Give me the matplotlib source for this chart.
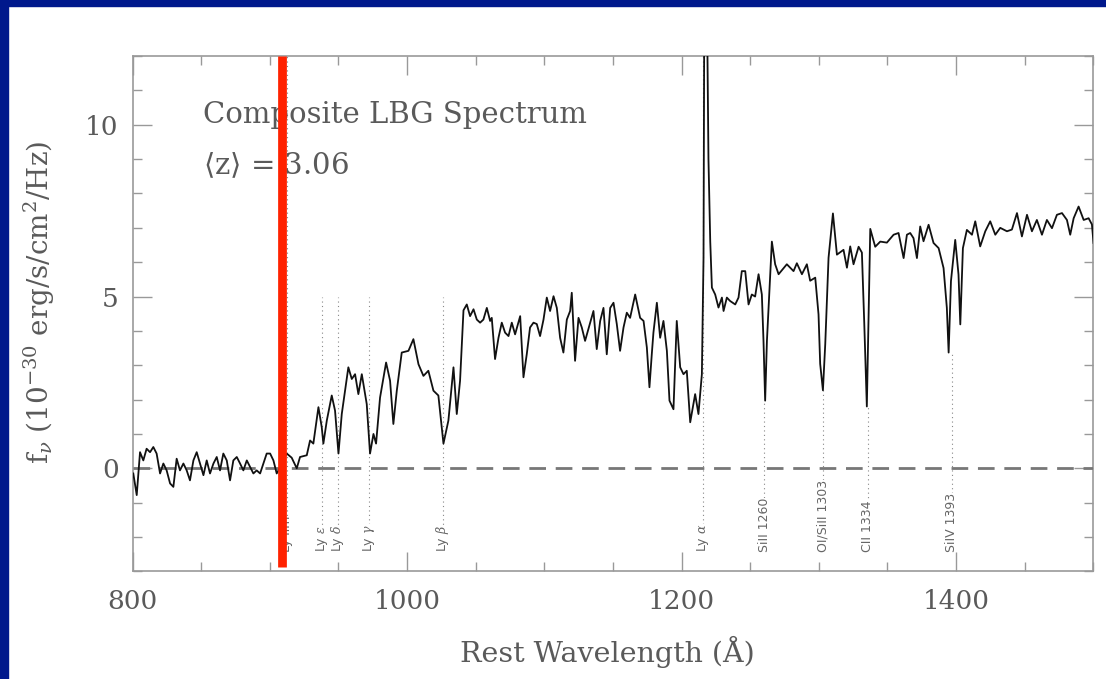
import matplotlib
matplotlib.use('Agg')
import matplotlib.pyplot as plt
from matplotlib.patches import Rectangle
from matplotlib.ticker import MultipleLocator

# composite spectrum, rest wavelength (A) and f_nu (1e-30 erg/s/cm^2/Hz)
wave = [800.5, 803.0, 805.4, 807.8, 810.2, 812.7, 815.1, 817.5, 820.0, 822.4,
        824.8, 827.3, 829.7, 832.1, 834.5, 837.0, 839.4, 841.8, 844.3, 846.7,
        849.1, 851.6, 854.0, 856.4, 858.9, 861.3, 863.7, 866.1, 868.6, 871.0,
        873.4, 875.9, 878.3, 880.7, 883.2, 885.6, 888.0, 890.4, 892.9, 895.3,
        897.7, 900.2, 902.6, 905.0, 908.5, 910.5,
        912.3, 915.9, 919.6, 922.0, 926.9, 929.3, 931.7, 935.4, 937.8, 939.0,
        941.5, 945.1, 947.5, 950.0, 952.4, 957.2, 959.7, 962.1, 964.5, 967.0,
        970.6, 973.0, 975.5, 977.4, 980.3, 984.7, 987.6, 990.0, 992.5, 996.1,
        1001.0, 1004.6, 1008.3, 1011.9, 1015.5, 1019.2, 1022.8, 1026.5, 1030.1, 1033.8,
        1036.2, 1038.6, 1041.1, 1043.5, 1045.9, 1048.4, 1050.8, 1053.2, 1055.6, 1058.1,
        1060.5, 1061.7, 1064.1, 1066.6, 1069.0, 1071.4, 1073.9, 1076.3, 1078.7, 1082.4,
        1084.8, 1087.2, 1089.6, 1092.1, 1094.5, 1096.9, 1099.4, 1101.8, 1104.2, 1106.7,
        1109.1, 1111.5, 1113.9, 1116.4, 1118.8, 1120.0, 1122.4, 1124.9, 1127.3, 1129.7,
        1133.4, 1135.8, 1138.2, 1140.7, 1143.1, 1145.5, 1148.0, 1150.4, 1152.8, 1155.2,
        1157.7, 1160.1, 1162.5, 1166.2, 1169.8, 1172.3, 1174.7, 1176.6, 1178.3, 1179.5,
        1182.0, 1184.4, 1186.8, 1189.3, 1191.2, 1194.1, 1196.5, 1199.0, 1201.4, 1203.8,
        1206.3, 1209.9, 1212.3, 1214.8, 1216.0, 1216.6, 1218.4, 1219.6, 1220.9, 1222.1,
        1224.5, 1226.9, 1229.4, 1230.6, 1233.0, 1235.4, 1239.1, 1241.5, 1243.9, 1246.4,
        1248.8, 1251.2, 1253.6, 1256.1, 1258.5, 1259.7, 1260.9, 1262.2, 1264.6, 1265.8,
        1268.2, 1270.7, 1276.7, 1281.6, 1284.0, 1287.7, 1291.3, 1293.7, 1297.4, 1299.8,
        1301.0, 1303.0, 1304.7, 1307.1, 1310.3, 1313.2, 1318.0, 1320.5, 1322.9, 1325.3,
        1329.0, 1331.4, 1333.1, 1335.0, 1337.5, 1341.1, 1344.8, 1349.6, 1354.5, 1358.1,
        1361.8, 1364.2, 1366.6, 1369.0, 1371.5, 1373.9, 1376.3, 1380.0, 1383.6, 1387.3,
        1390.9, 1393.3, 1394.6, 1396.3, 1399.4, 1401.8, 1403.1, 1405.0, 1407.9, 1411.6,
        1414.0, 1417.6, 1421.3, 1424.9, 1428.6, 1432.2, 1437.1, 1440.7, 1444.4, 1448.0,
        1451.7, 1455.3, 1458.9, 1462.6, 1466.2, 1469.9, 1473.5, 1477.2, 1480.8, 1483.2,
        1485.7, 1489.3, 1493.0, 1496.6, 1499.0, 1500.2]
flux = [-0.15, -0.78, 0.47, 0.23, 0.57, 0.47, 0.62, 0.43, -0.15, 0.14,
        -0.06, -0.44, -0.54, 0.28, -0.06, 0.14, -0.06, -0.35, 0.23, 0.47,
        0.14, -0.20, 0.23, -0.15, 0.14, 0.33, -0.06, 0.43, 0.23, -0.35,
        0.23, 0.33, 0.14, -0.06, 0.23, 0.04, -0.15, -0.06, -0.15, 0.14,
        0.43, 0.43, 0.23, -0.15, 0.10, 0.30,
        0.43, 0.31, 0.00, 0.33, 0.38, 0.81, 0.72, 1.78, 1.20, 0.72,
        1.39, 2.12, 1.68, 0.43, 1.58, 2.94, 2.60, 2.74, 2.16, 2.74,
        1.87, 0.43, 1.00, 0.72, 2.06, 3.08, 2.55, 1.29, 2.26, 3.37,
        3.42, 3.76, 3.03, 2.69, 2.84, 2.26, 2.12, 0.72, 1.39, 2.94,
        1.58, 2.55, 4.60, 4.77, 4.43, 4.63, 4.33, 4.24, 4.33, 4.67,
        4.29, 4.38, 3.18, 3.80, 4.24, 3.95, 3.85, 4.24, 3.90, 4.43,
        2.65, 3.32, 4.10, 4.24, 4.20, 3.85, 4.33, 4.97, 4.58, 5.01,
        4.67, 3.80, 3.37, 4.33, 4.58, 5.11, 3.13, 4.38, 4.10, 3.71,
        4.24, 4.58, 3.47, 4.29, 4.67, 3.32, 4.67, 4.82, 4.20, 3.42,
        4.10, 4.53, 4.38, 5.06, 4.38, 4.29, 3.52, 2.36, 3.32, 3.95,
        4.82, 3.80, 4.29, 3.42, 1.97, 1.72, 4.29, 2.94, 2.74, 2.84,
        1.34, 2.16, 1.58, 2.74, 6.13, 14.0, 14.0, 9.00, 6.60, 5.26,
        5.06, 4.68, 4.97, 4.58, 4.97, 4.87, 4.77, 4.97, 5.74, 5.74,
        4.77, 5.06, 5.00, 5.65, 5.06, 3.71, 1.97, 3.71, 5.65, 6.60,
        5.94, 5.65, 5.94, 5.74, 5.97, 5.65, 5.94, 5.46, 5.55, 4.48,
        3.04, 2.27, 3.62, 6.13, 7.42, 6.22, 6.36, 5.84, 6.46, 5.94,
        6.45, 6.28, 4.25, 1.80, 6.97, 6.45, 6.60, 6.57, 6.80, 6.85,
        6.12, 6.80, 6.85, 6.70, 6.12, 7.04, 6.61, 7.09, 6.56, 6.41,
        5.83, 4.67, 3.37, 5.45, 6.65, 5.64, 4.19, 6.41, 6.94, 6.80,
        7.19, 6.46, 6.90, 7.19, 6.80, 7.00, 6.90, 6.95, 7.43, 6.75,
        7.38, 6.90, 7.23, 6.80, 7.23, 6.99, 7.38, 7.43, 7.23, 6.80,
        7.28, 7.62, 7.23, 7.28, 7.10, 6.56]

# marked features
line_wave = [912.3, 938.0, 949.5, 972.5, 1026.0, 1215.7, 1260.4, 1303.0, 1335.5, 1397.0]
line_label = ['Ly lim', r'Ly $\epsilon$', r'Ly $\delta$', r'Ly $\gamma$', r'Ly $\beta$',
              r'Ly $\alpha$', 'SiII 1260', 'OI/SiII 1303', 'CII 1334', 'SiIV 1393']
line_top = [12.0, 5.0, 5.0, 5.0, 5.0, 12.0, 2.0, 2.3, 1.8, 3.4]

lyman_cut = 908.7
z_mean = 3.06

plt.rcParams['font.family'] = 'DejaVu Serif'
plt.rcParams['mathtext.fontset'] = 'dejavuserif'
grey = '#5a5a5a'

fig = plt.figure(figsize=(11.06, 6.79), dpi=100)
fig.patches.append(Rectangle((0, 1 - 6 / 679), 1, 6 / 679, transform=fig.transFigure,
                             color='#00188c', zorder=10))
fig.patches.append(Rectangle((0, 0), 8 / 1106, 1, transform=fig.transFigure,
                             color='#00188c', zorder=10))

ax = fig.add_axes([0.1199, 0.1585, 0.8686, 0.7589])

ax.plot(wave, flux, color='#111111', lw=1.3, zorder=4)
ax.axhline(0, color='#777777', lw=2, dashes=(6, 3.5), zorder=3)

for w, lab, top in zip(line_wave, line_label, line_top):
    ax.plot([w, w], [-2.4, top], color='#888888', lw=0.8, ls=(0, (1, 3)), zorder=1)
    ax.text(w, -2.44, lab, rotation=90, ha='center', va='bottom', fontsize=9,
            family='DejaVu Sans', color='#666666', zorder=2,
            bbox=dict(fc='white', ec='none', pad=0))

ax.plot([lyman_cut, lyman_cut], [-2.86, 12], color='#ff2200', lw=6.3,
        solid_capstyle='butt', zorder=5, clip_on=False)

ax.text(851.3, 10.29, 'Composite LBG Spectrum', va='center', fontsize=21, color=grey)
ax.text(851.3, 8.83, r'$\langle\mathrm{z}\rangle$ = %.2f' % z_mean, va='center',
        fontsize=21, color=grey)

ax.set_xlim(800, 1500)
ax.set_ylim(-3, 12)
ax.set_xticks([800, 1000, 1200, 1400])
ax.set_yticks([0, 5, 10])
ax.xaxis.set_minor_locator(MultipleLocator(50))
ax.yaxis.set_minor_locator(MultipleLocator(1))
ax.tick_params(which='both', direction='in', top=True, right=True, color='#999999')
ax.tick_params(which='major', length=13.7, width=1, labelsize=19, labelcolor=grey)
ax.tick_params(axis='x', which='major', pad=13)
ax.tick_params(axis='y', which='major', pad=10)
ax.tick_params(which='minor', length=6.8, width=1)
for s in ax.spines.values():
    s.set_color('#999999')
    s.set_linewidth(1.2)

ax.set_xlabel('Rest Wavelength (Å)', fontsize=20.5, color=grey)
ax.xaxis.set_label_coords(0.494, -0.156)
ax.xaxis.label.set_verticalalignment('center')
ax.set_ylabel(r'f$_\nu$ (10$^{-30}$ erg/s/cm$^2$/Hz)', fontsize=20, color=grey)
ax.yaxis.set_label_coords(-0.0787, 0.523)

fig.savefig('out.png', dpi=100)
